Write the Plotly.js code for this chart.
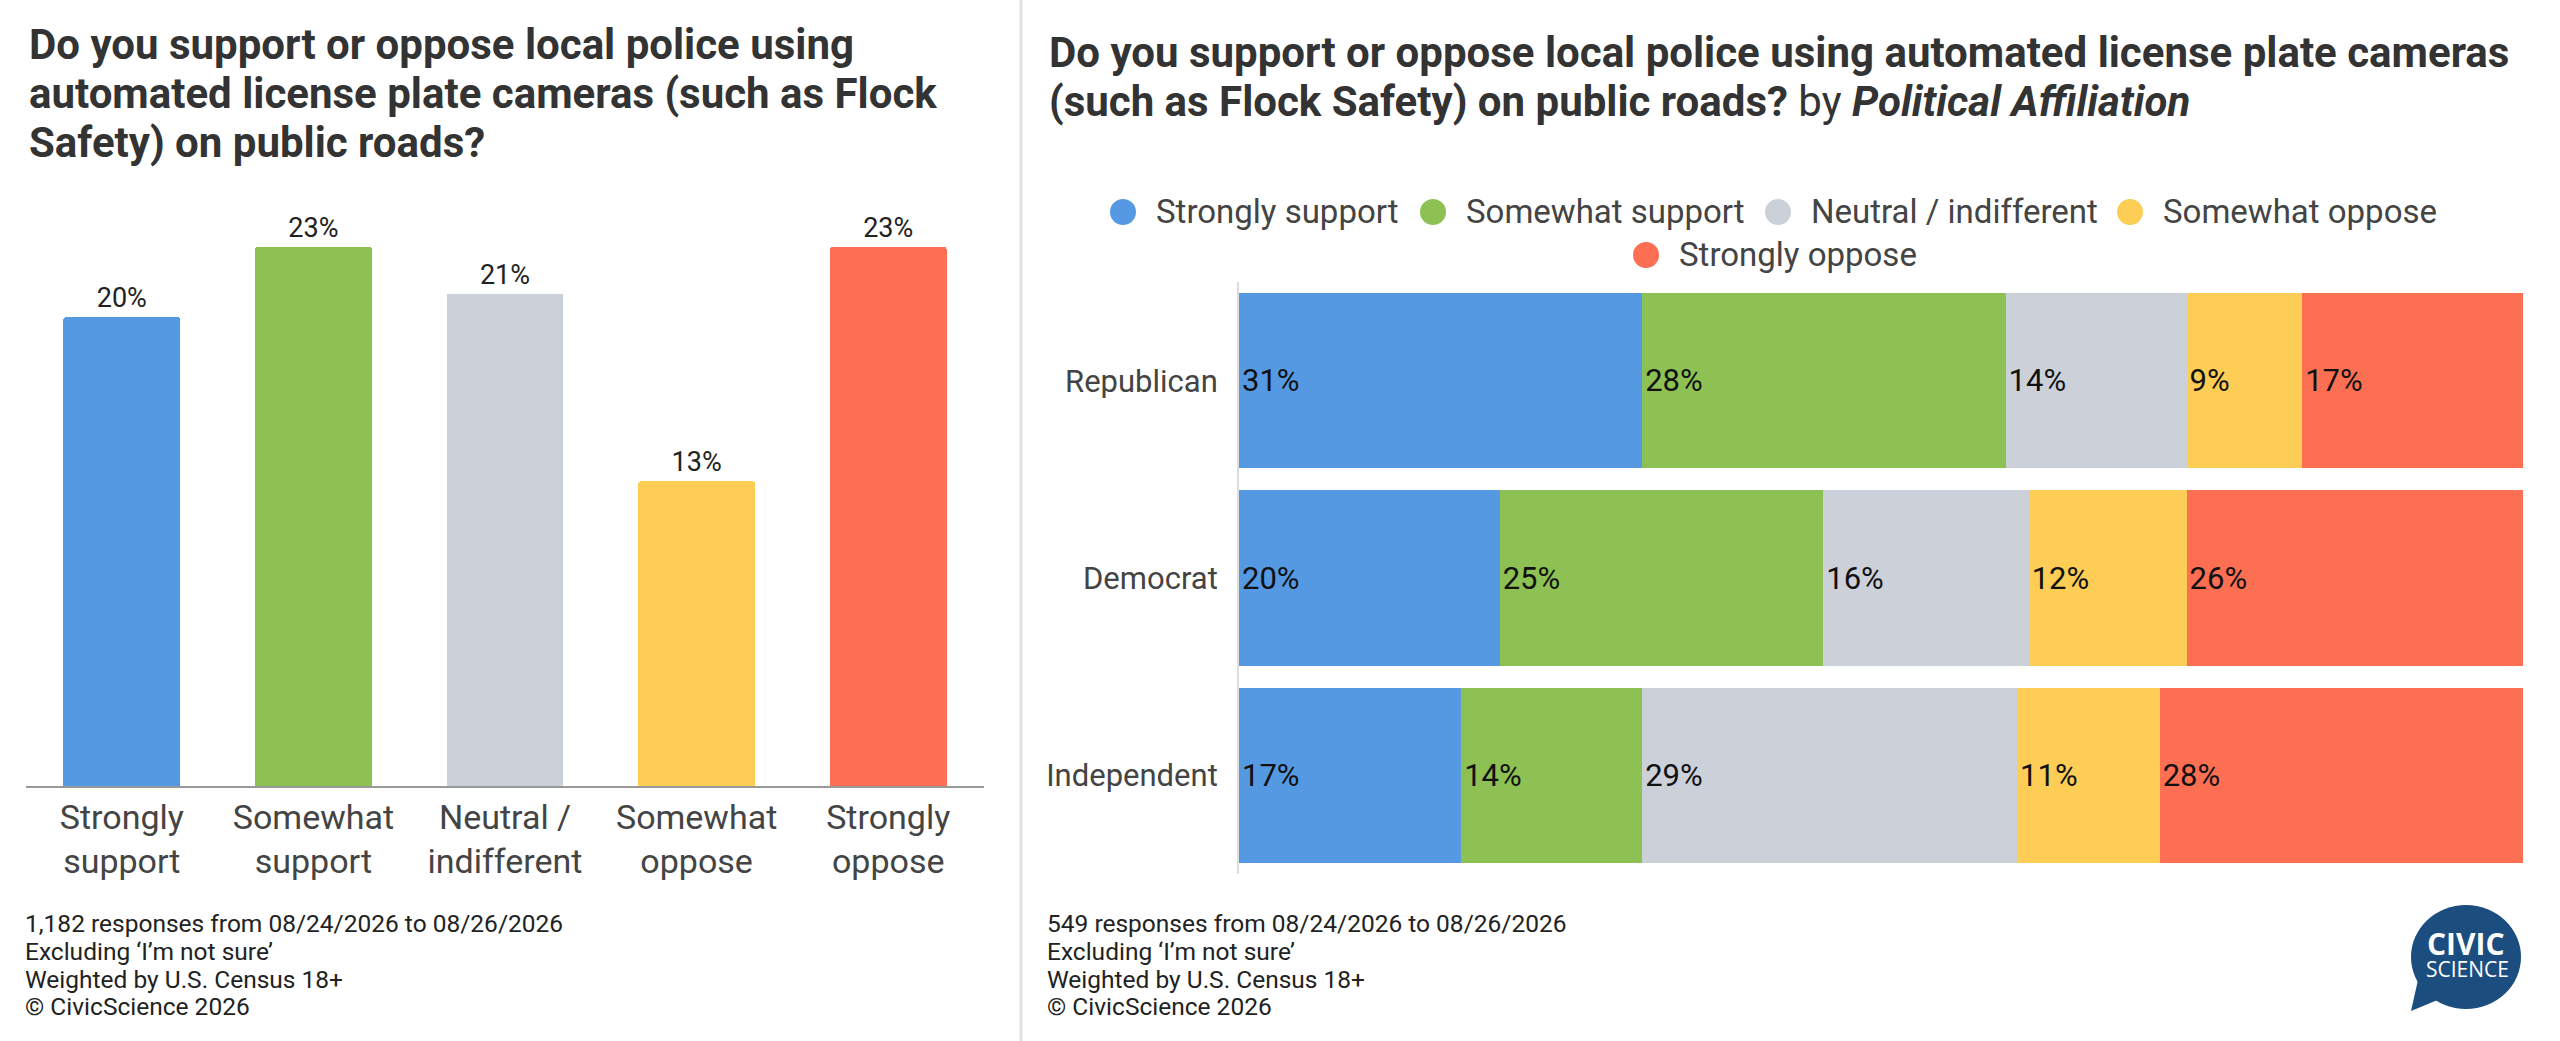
<!DOCTYPE html>
<html><head><meta charset="utf-8">
<script src="https://cdn.plot.ly/plotly-3.0.1.min.js"></script>
<style>html,body{margin:0;padding:0;background:#fff;} #chart{width:2560px;height:1041px;}</style>
</head><body><div id="chart"></div>
<script>
// ---- data ----
const responses = ['Strongly support','Somewhat support','Neutral / indifferent','Somewhat oppose','Strongly oppose'];
const responseTickLabels = ['Strongly<br>support','Somewhat<br>support','Neutral /<br>indifferent','Somewhat<br>oppose','Strongly<br>oppose'];
const overallPct = [20, 23, 21, 13, 23];
const parties = ['Republican','Democrat','Independent'];
const stronglySupport = [31.4, 20.3, 17.3];
const somewhatSupport = [28.3, 25.2, 14.1];
const neutralIndifferent = [14.1, 16.0, 29.2];
const somewhatOppose = [9.0, 12.3, 11.1];
const stronglyOppose = [17.2, 26.2, 28.3];
const colors = ['#5699E3','#8DC153','#CCD0D8','#FDCD56','#FC6F52'];
const leftTitleLines = ['Do you support or oppose local police using','automated license plate cameras (such as Flock','Safety) on public roads?'];
const rightTitleLines = ['<b>Do you support or oppose local police using automated license plate cameras</b>','<b>(such as Flock Safety) on public roads?</b> by <b><i>Political Affiliation</i></b>'];
const leftFooter = ['1,182 responses from 08/24/2026 to 08/26/2026','Excluding ‘I’m not sure’','Weighted by U.S. Census 18+','© CivicScience 2026'];
const rightFooter = ['549 responses from 08/24/2026 to 08/26/2026','Excluding ‘I’m not sure’','Weighted by U.S. Census 18+','© CivicScience 2026'];

// ---- layout helpers (pixel -> paper) ----
const W = 2560, H = 1041;
const X = p => p / W;
const Y = p => 1 - p / H;
const FONT = 'Roboto, "Noto Sans", Arial, sans-serif';

const seriesByParty = [stronglySupport, somewhatSupport, neutralIndifferent, somewhatOppose, stronglyOppose];

const traces = [{
  type: 'bar', x: responses, y: overallPct, xaxis: 'x', yaxis: 'y',
  marker: {color: colors, cornerradius: 3}, width: 0.61,
  texttemplate: '%{y}%', textposition: 'outside', cliponaxis: false,
  textfont: {family: FONT, size: 27, color: '#222'},
  hoverinfo: 'skip', showlegend: false
}];
seriesByParty.forEach((vals, i) => {
  traces.push({
    type: 'bar', orientation: 'h', x: vals, y: parties, name: responses[i],
    xaxis: 'x2', yaxis: 'y2', marker: {color: colors[i]}, width: 0.887,
    texttemplate: '%{x:.0f}%', textposition: 'inside', insidetextanchor: 'start',
    constraintext: 'none',
    insidetextfont: {family: FONT, size: 31, color: '#111'},
    hoverinfo: 'skip', showlegend: false
  });
});

const annotations = [];
const shapes = [];
leftTitleLines.forEach((t, i) => annotations.push({
  xref: 'paper', yref: 'paper', x: X(27), y: Y([44, 93, 142][i]), xanchor: 'left', yanchor: 'middle',
  text: '<b>' + t + '</b>', showarrow: false, font: {family: FONT, size: 42, color: '#333'}
}));
rightTitleLines.forEach((t, i) => annotations.push({
  xref: 'paper', yref: 'paper', x: X(1047), y: Y([53, 101][i]), xanchor: 'left', yanchor: 'middle',
  text: t, showarrow: false, font: {family: FONT, size: 42, color: '#333'}
}));
const footY = [923, 951, 979, 1007];
leftFooter.forEach((t, i) => annotations.push({
  xref: 'paper', yref: 'paper', x: X(23), y: Y(footY[i]), xanchor: 'left', yanchor: 'middle',
  text: t, showarrow: false, font: {family: FONT, size: 24.5, color: '#222'}
}));
rightFooter.forEach((t, i) => annotations.push({
  xref: 'paper', yref: 'paper', x: X(1045), y: Y(footY[i]), xanchor: 'left', yanchor: 'middle',
  text: t, showarrow: false, font: {family: FONT, size: 24.5, color: '#222'}
}));

// legend (circle + label)
const legendPos = [[1123, 212], [1433, 212], [1778, 212], [2130, 212], [1646, 255]];
responses.forEach((name, i) => {
  const [cx, cy] = legendPos[i];
  shapes.push({type: 'circle', xref: 'paper', yref: 'paper', x0: X(cx - 13), x1: X(cx + 13), y0: Y(cy + 13), y1: Y(cy - 13),
    fillcolor: colors[i], line: {width: 0}});
  annotations.push({xref: 'paper', yref: 'paper', x: X(cx + 31), y: Y(cy), xanchor: 'left', yanchor: 'middle',
    text: name, showarrow: false, font: {family: FONT, size: 33, color: '#444'}});
});

// divider
shapes.push({type: 'line', xref: 'paper', yref: 'paper', x0: X(1021), x1: X(1021), y0: 0, y1: 1, line: {color: '#E2E2E2', width: 3}});

// logo
const logoBlue = '#1B4E7E';
shapes.push({type: 'circle', xref: 'paper', yref: 'paper', x0: X(2411), x1: X(2521), y0: Y(1009), y1: Y(905), fillcolor: logoBlue, line: {width: 0}});
shapes.push({type: 'path', xref: 'paper', yref: 'paper',
  path: `M ${X(2418)},${Y(980)} L ${X(2411)},${Y(1011)} L ${X(2440)},${Y(999)} Z`, fillcolor: logoBlue, line: {width: 0}});
annotations.push({xref: 'paper', yref: 'paper', x: X(2466), y: Y(943), xanchor: 'center', yanchor: 'middle', showarrow: false,
  text: '<b>CIVIC</b>', font: {family: '"Open Sans", Roboto, sans-serif', size: 30, color: '#fff'}});
annotations.push({xref: 'paper', yref: 'paper', x: X(2467), y: Y(969), xanchor: 'center', yanchor: 'middle', showarrow: false,
  text: 'SCIENCE', font: {family: '"Open Sans", Roboto, sans-serif', size: 21, color: '#fff'}});

const layout = {
  width: W, height: H, margin: {l: 0, r: 0, t: 0, b: 0},
  paper_bgcolor: '#fff', plot_bgcolor: 'rgba(0,0,0,0)',
  font: {family: FONT}, barmode: 'stack', showlegend: false,
  xaxis: {domain: [X(26), X(984)], type: 'category', tickvals: responses, ticktext: responseTickLabels,
    showline: true, linecolor: '#999', linewidth: 2, ticks: '', showgrid: false, zeroline: false,
    tickfont: {family: FONT, size: 34, color: '#444'}, fixedrange: true},
  yaxis: {domain: [Y(786), Y(200)], range: [0, 25], visible: false, fixedrange: true},
  xaxis2: {anchor: 'y2', domain: [X(1239), X(2523)], range: [0, 100], visible: false, fixedrange: true},
  yaxis2: {anchor: 'x2', domain: [Y(874), Y(282)], type: 'category', autorange: 'reversed',
    showline: true, linecolor: '#DDD', linewidth: 2, ticks: '', showgrid: false, zeroline: false,
    ticklabelstandoff: 13, tickfont: {family: FONT, size: 31, color: '#444'}, fixedrange: true},
  annotations: annotations, shapes: shapes
};

Plotly.newPlot('chart', traces, layout, {displayModeBar: false, staticPlot: true});
</script>
</body></html>
